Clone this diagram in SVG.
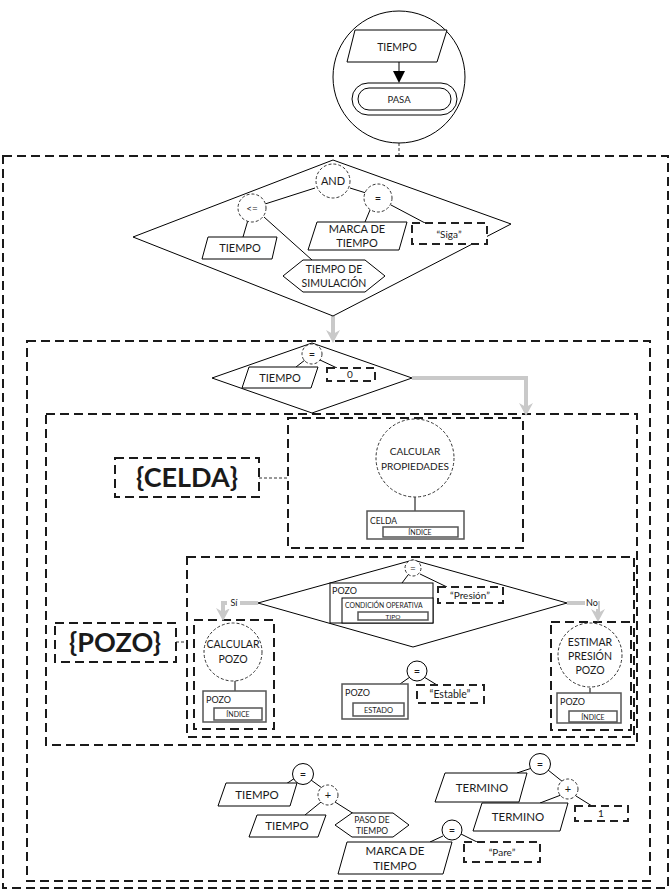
<svg xmlns="http://www.w3.org/2000/svg" width="672" height="892" viewBox="0 0 672 892">
<defs>
<style>
.bx{fill:none;stroke:#1a1a1a;stroke-width:2;stroke-dasharray:9 5}
.sh{fill:#fff;stroke:#000;stroke-width:1}
.dc{fill:#fff;stroke:#333;stroke-width:1;stroke-dasharray:3 2}
.ln{fill:none;stroke:#000;stroke-width:1}
.dl{fill:none;stroke:#333;stroke-width:1;stroke-dasharray:3 2}
.rec{fill:#fff;stroke:#555;stroke-width:1.5}
.lit{fill:#fff;stroke:#222;stroke-width:2;stroke-dasharray:8 5}
.ga{fill:none;stroke:#c9c9c9;stroke-width:4;marker-end:url(#gh)}
text{font-family:Lato,"Liberation Sans",sans-serif;fill:#1a1a1a;text-anchor:middle}
.s{text-anchor:start}
.big{font-weight:bold;font-size:27px}
</style>
<marker id="gh" markerUnits="userSpaceOnUse" viewBox="-1 -8 15 16" markerWidth="15" markerHeight="16" refX="6" refY="0" orient="auto">
<path d="M0,-7 L13,0 L0,7 L4,0 Z" fill="#c9c9c9"/>
</marker>
<marker id="bh" markerUnits="userSpaceOnUse" viewBox="0 -6 12 12" markerWidth="12" markerHeight="12" refX="12" refY="0" orient="auto">
<path d="M0,-6 L12,0 L0,6 Z" fill="#000"/>
</marker>
</defs>
<rect width="672" height="892" fill="#fff"/>

<g id="containers">
<rect class="bx" x="3" y="156" width="665" height="732"/>
<rect class="bx" x="27" y="341" width="623" height="540"/>
<rect class="bx" x="46" y="414" width="591" height="331"/>
<rect class="bx" x="288" y="418" width="235" height="130"/>
<rect class="bx" x="187" y="557" width="447" height="180"/>
<rect class="bx" x="194" y="620" width="80" height="109"/>
<rect class="bx" x="551" y="622" width="80" height="108"/>
</g>

<g id="connectors">
<line class="dl" x1="399" y1="143" x2="399" y2="156"/>
<line class="dl" x1="259" y1="478" x2="288" y2="478"/>
<line class="dl" x1="176" y1="642" x2="187" y2="642"/>
<line class="ln" x1="399" y1="62" x2="399" y2="83" marker-end="url(#bh)"/>
<!-- top condition tree -->
<line class="ln" x1="315" y1="188" x2="265" y2="204"/>
<line class="ln" x1="350" y1="188" x2="366" y2="193"/>
<line class="ln" x1="248" y1="220" x2="243" y2="237"/>
<line class="ln" x1="264" y1="217" x2="312" y2="260"/>
<line class="ln" x1="370" y1="210" x2="365" y2="222"/>
<line class="ln" x1="391" y1="205" x2="425" y2="223"/>
<path class="ga" d="M333,316 V336"/>
<!-- tiempo = 0 -->
<line class="ln" x1="305" y1="360" x2="296" y2="367"/>
<line class="ln" x1="320" y1="360" x2="337" y2="368"/>
<path class="ga" d="M412,378 H526 V409"/>
<!-- celda -->
<line class="ln" x1="415" y1="497" x2="415" y2="511"/>
<!-- pozo condition -->
<line class="ln" x1="408" y1="575" x2="402" y2="583"/>
<line class="ln" x1="420" y1="574" x2="447" y2="587"/>
<path class="ga" d="M258,603 H223 V614"/>
<path class="ga" d="M567,603 H598 V615"/>
<line class="ln" x1="235" y1="681" x2="235" y2="691"/>
<line class="ln" x1="590" y1="688" x2="590" y2="693"/>
<line class="ln" x1="410" y1="677" x2="400" y2="684"/>
<line class="ln" x1="424" y1="677" x2="437" y2="685"/>
<!-- bottom assignments -->
<line class="ln" x1="295" y1="778" x2="286" y2="784"/>
<line class="ln" x1="311" y1="780" x2="322" y2="788"/>
<line class="ln" x1="321" y1="802" x2="305" y2="815"/>
<line class="ln" x1="335" y1="802" x2="354" y2="814"/>
<line class="ln" x1="532" y1="768" x2="517" y2="773"/>
<line class="ln" x1="548" y1="770" x2="563" y2="782"/>
<line class="ln" x1="561" y1="795" x2="540" y2="803"/>
<line class="ln" x1="576" y1="796" x2="592" y2="806"/>
<line class="ln" x1="443" y1="836" x2="430" y2="842"/>
<line class="ln" x1="461" y1="834" x2="477" y2="842"/>
</g>

<g id="tiempo-pasa">
<circle class="sh" cx="399" cy="77" r="66"/>
<polygon class="sh" points="355,30 447,30 437,62 347,62"/>
<text x="397" y="51" font-size="10.5">TIEMPO</text>
<line class="ln" x1="399" y1="62" x2="399" y2="73"/>
<path d="M393,71 L405,71 L399,83 Z" fill="#000"/>
<rect class="sh" x="352" y="83" width="105" height="32" rx="16"/>
<rect class="sh" x="358" y="88" width="93" height="22" rx="11"/>
<text x="399" y="103" font-size="9.5">PASA</text>
</g>

<g id="cond-simulacion">
<polygon class="ln" points="333,160 511,224 333,316 133,237"/>
<circle class="dc" cx="333" cy="181" r="17"/>
<text x="333" y="185" font-size="11">AND</text>
<circle class="dc" cx="252" cy="208" r="14"/>
<text x="252" y="212" font-size="10">&lt;=</text>
<circle class="dc" cx="378" cy="198" r="14"/>
<text x="378" y="202" font-size="11">=</text>
<polygon class="sh" points="208,237 277,237 272,259 202,259"/>
<text x="240" y="252" font-size="11">TIEMPO</text>
<polygon class="sh" points="283,276 303,260 365,260 385,276 365,292 303,292"/>
<text x="334" y="273" font-size="10.5">TIEMPO DE</text>
<text x="334" y="287" font-size="10.5">SIMULACIÓN</text>
<polygon class="sh" points="317,222 407,222 399,250 308,250"/>
<text x="357" y="233" font-size="11">MARCA DE</text>
<text x="357" y="247" font-size="11">TIEMPO</text>
<rect class="lit" x="412" y="223" width="75" height="21"/>
<text x="449" y="238" font-size="10">“Siga”</text>
</g>

<g id="cond-inicio">
<polygon class="ln" points="312,343 412,378 312,413 212,378"/>
<circle class="dc" cx="312" cy="354" r="10"/>
<text x="312" y="358" font-size="11">=</text>
<polygon class="sh" points="249,367 318,367 311,388 242,388"/>
<text x="280" y="382" font-size="11">TIEMPO</text>
<rect class="lit" x="327" y="368" width="48" height="13"/>
<text x="350" y="378" font-size="10">0</text>
</g>

<g id="celda-label">
<rect class="bx" x="115" y="458" width="144" height="39"/>
<text class="big" x="187" y="487">{CELDA}</text>
</g>

<g id="calcular-propiedades">
<circle class="dc" cx="415" cy="458" r="39"/>
<text x="415" y="455" font-size="10">CALCULAR</text>
<text x="415" y="470" font-size="10">PROPIEDADES</text>
<rect class="rec" x="367" y="511" width="97" height="28"/>
<text class="s" x="370" y="524" font-size="8.5">CELDA</text>
<rect class="rec" x="383" y="527" width="75" height="10" stroke-width="1.2"/>
<text x="420" y="535" font-size="7">ÍNDICE</text>
</g>

<g id="pozo-label">
<rect class="bx" x="55" y="623" width="121" height="39"/>
<text class="big" x="115" y="652">{POZO}</text>
</g>

<g id="cond-pozo">
<polygon class="ln" points="413,560 567,603 413,647 258,603"/>
<circle class="dc" cx="413" cy="568" r="8"/>
<text x="413" y="571.5" font-size="10">=</text>
<rect class="sh" x="330" y="583" width="103" height="40"/>
<text class="s" x="332" y="594" font-size="9">POZO</text>
<rect class="sh" x="342" y="598" width="91" height="25"/>
<text class="s" x="345" y="608" font-size="6.8">CONDICIÓN OPERATIVA</text>
<rect class="rec" x="358" y="612" width="70" height="8" stroke-width="1"/>
<text x="393" y="618.5" font-size="6.5">TIPO</text>
<rect class="lit" x="438" y="587" width="65" height="16"/>
<text x="470" y="599" font-size="10">“Presión”</text>
<rect x="227" y="596" width="13" height="13" fill="#fff"/>
<text x="234" y="606" font-size="9">Sí</text>
<rect x="585" y="596" width="13" height="13" fill="#fff"/>
<text x="592" y="606" font-size="9">No</text>
</g>

<g id="calcular-pozo">
<circle class="dc" cx="233" cy="652" r="29"/>
<text x="233" y="648" font-size="10.5">CALCULAR</text>
<text x="233" y="663" font-size="10.5">POZO</text>
<rect class="rec" x="203" y="691" width="63" height="31"/>
<text class="s" x="206" y="703" font-size="9">POZO</text>
<rect class="rec" x="214" y="708" width="48" height="12" stroke-width="1.2"/>
<text x="238" y="717" font-size="7">ÍNDICE</text>
</g>

<g id="estado-pozo">
<circle class="sh" cx="417" cy="671" r="10"/>
<text x="417" y="675" font-size="11">=</text>
<rect class="rec" x="342" y="684" width="66" height="35"/>
<text class="s" x="345" y="696" font-size="9">POZO</text>
<rect class="rec" x="353" y="703" width="51" height="13" stroke-width="1.2"/>
<text x="378.5" y="712.5" font-size="7.5">ESTADO</text>
<rect class="lit" x="417" y="685" width="67" height="18"/>
<text x="450" y="698" font-size="10.5">“Estable”</text>
</g>

<g id="estimar-presion">
<circle class="dc" cx="590" cy="655" r="32"/>
<text x="590" y="646" font-size="10.5">ESTIMAR</text>
<text x="590" y="660" font-size="10.5">PRESIÓN</text>
<text x="590" y="674" font-size="10.5">POZO</text>
<rect class="rec" x="557" y="693" width="64" height="30"/>
<text class="s" x="560" y="705" font-size="9">POZO</text>
<rect class="rec" x="569" y="711" width="48" height="11" stroke-width="1.2"/>
<text x="593" y="719.5" font-size="7">ÍNDICE</text>
</g>

<g id="avance-tiempo">
<circle class="sh" cx="303" cy="774" r="10.5"/>
<text x="303" y="778" font-size="11">=</text>
<polygon class="sh" points="226,783 297,783 290,806 218,806"/>
<text x="257" y="799" font-size="11.5">TIEMPO</text>
<circle class="dc" cx="328" cy="795" r="10"/>
<text x="328" y="799" font-size="11">+</text>
<polygon class="sh" points="257,815 326,815 318,837 249,837"/>
<text x="287" y="830" font-size="11.5">TIEMPO</text>
<polygon class="sh" points="335,825 352,813 393,813 409,825 393,837 352,837"/>
<text x="372" y="823" font-size="8.5">PASO DE</text>
<text x="372" y="834" font-size="8.5">TIEMPO</text>
</g>

<g id="incremento-termino">
<circle class="sh" cx="540" cy="764" r="10.5"/>
<text x="540" y="768" font-size="11">=</text>
<polygon class="sh" points="445,773 527,773 519,802 435,802"/>
<text x="482" y="792" font-size="11.5">TERMINO</text>
<circle class="dc" cx="568" cy="789" r="10"/>
<text x="568" y="793" font-size="11">+</text>
<polygon class="sh" points="482,803 568,803 560,831 473,831"/>
<text x="518" y="821" font-size="11.5">TERMINO</text>
<rect class="lit" x="575" y="806" width="53" height="15"/>
<text x="601" y="817" font-size="10">1</text>
</g>

<g id="marca-pare">
<circle class="sh" cx="452" cy="830" r="10"/>
<text x="452" y="834" font-size="11">=</text>
<polygon class="sh" points="347,842 452,842 443,874 338,874"/>
<text x="395" y="855" font-size="11.5">MARCA DE</text>
<text x="395" y="870" font-size="11.5">TIEMPO</text>
<rect class="lit" x="464" y="842" width="76" height="20"/>
<text x="502" y="856" font-size="10">“Pare”</text>
</g>
</svg>
